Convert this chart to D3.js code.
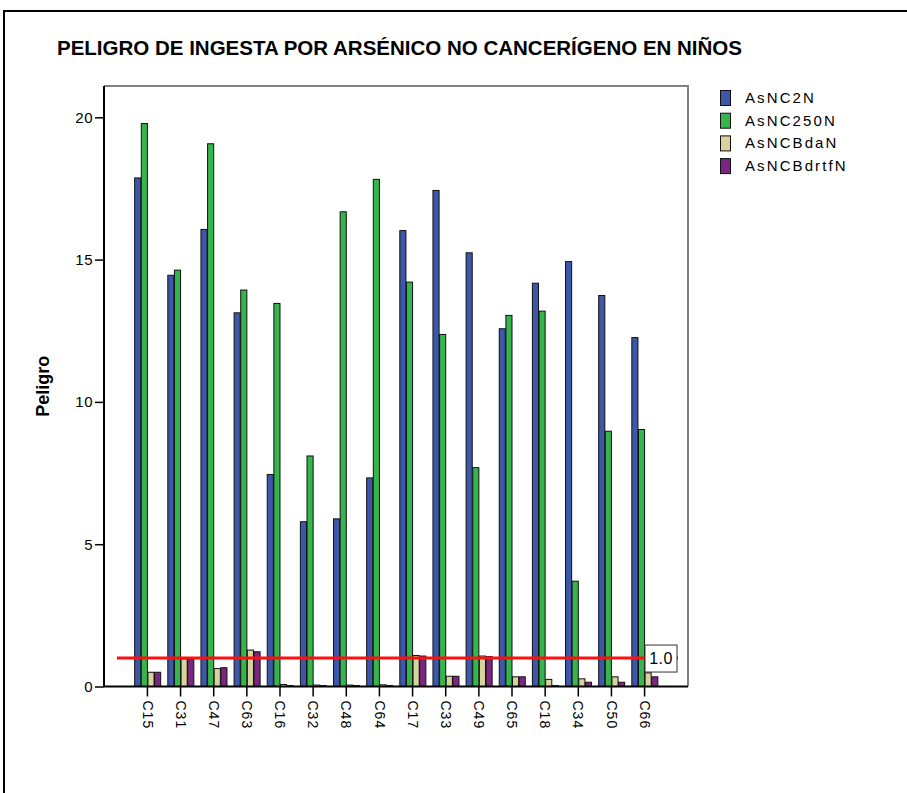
<!DOCTYPE html>
<html>
<head>
<meta charset="utf-8">
<script src="https://cdn.jsdelivr.net/npm/d3@7"></script>
<style>
  html, body { margin: 0; padding: 0; background: #fff; }
  svg { display: block; font-family: "Liberation Sans", Arial, sans-serif; }
</style>
</head>
<body>
<svg id="chart" width="907" height="793"></svg>
<script>
// Hazard index per sampling site
const categories = ["C15","C31","C47","C63","C16","C32","C48","C64","C17","C33","C49","C65","C18","C34","C50","C66"];
const seriesNames = ["AsNC2N","AsNC250N","AsNCBdaN","AsNCBdrtfN"];
const asnc2n     = [17.87,14.45,16.06,13.13,7.45,5.79,5.89,7.33,16.02,17.43,15.24,12.57,14.17,14.93,13.74,12.26];
const asnc250n   = [19.78,14.63,19.07,13.93,13.46,8.10,16.68,17.82,14.21,12.37,7.69,13.04,13.19,3.70,8.97,9.03];
const asncbdan   = [0.50,0.97,0.63,1.28,0.07,0.05,0.05,0.06,1.09,0.36,1.07,0.34,0.25,0.27,0.34,0.48];
const asncbdrtfn = [0.50,0.97,0.66,1.22,0.03,0.03,0.03,0.03,1.07,0.36,1.05,0.34,0.03,0.15,0.15,0.34];
const yTicks = [0, 5, 10, 15, 20];
const threshold = 1.0;

const seriesValues = [asnc2n, asnc250n, asncbdan, asncbdrtfn];
const colors = ["#3d57a9", "#35b54b", "#d8d29d", "#7b2782"];

const svg = d3.select("#chart");

// outer border
svg.append("rect")
  .attr("x", 4).attr("y", 11).attr("width", 920).attr("height", 800)
  .attr("fill", "none").attr("stroke", "#000").attr("stroke-width", 2);

// title
svg.append("text")
  .attr("x", 57).attr("y", 55)
  .attr("font-size", 20).attr("font-weight", "bold")
  .attr("textLength", 685).attr("lengthAdjust", "spacingAndGlyphs")
  .text("PELIGRO DE INGESTA POR ARSÉNICO NO CANCERÍGENO EN NIÑOS");

const plot = { left: 104, right: 688, top: 86, bottom: 686.5 };

const x0 = d3.scaleBand().domain(categories)
  .range([plot.left, plot.right]).paddingInner(0.2).paddingOuter(0.91);
const x1 = d3.scaleBand().domain(seriesNames).range([0, x0.bandwidth()]);
const y = d3.scaleLinear().domain([0, 21.1]).range([plot.bottom, plot.top]);

// plot frame (top and right)
svg.append("path")
  .attr("d", `M${plot.left},${plot.top}H${plot.right}V${plot.bottom}`)
  .attr("fill", "none").attr("stroke", "#808080").attr("stroke-width", 2);

// bars
const groups = svg.append("g").selectAll("g")
  .data(categories).join("g")
  .attr("transform", d => `translate(${x0(d)},0)`);

groups.selectAll("rect")
  .data((c, i) => seriesNames.map((s, k) => ({ s, k, v: seriesValues[k][i] })))
  .join("rect")
  .attr("x", d => x1(d.s) + 0.5)
  .attr("width", x1.bandwidth() - 0.5)
  .attr("y", d => y(d.v))
  .attr("height", d => y(0) - y(d.v))
  .attr("fill", d => colors[d.k])
  .attr("stroke", "#111").attr("stroke-width", 1);

// y axis
const yAxis = svg.append("g")
  .attr("transform", `translate(${plot.left},0)`)
  .call(d3.axisLeft(y).tickValues(yTicks).tickFormat(d3.format("d")).tickSize(9).tickPadding(2));
yAxis.select(".domain").attr("stroke", "#000").attr("stroke-width", 2)
  .attr("d", `M0,${plot.top}V${plot.bottom}`);
yAxis.selectAll(".tick line").attr("stroke", "#000").attr("stroke-width", 1.5);
yAxis.selectAll(".tick text").attr("font-size", 15).attr("fill", "#000")
  .attr("font-family", "'Liberation Sans', Arial, sans-serif").attr("letter-spacing", 0.5);

// x axis
const xAxis = svg.append("g")
  .attr("transform", `translate(0,${plot.bottom})`)
  .call(d3.axisBottom(x0).tickSize(10).tickPadding(4));
xAxis.select(".domain").attr("stroke", "#000").attr("stroke-width", 2)
  .attr("d", `M${plot.left},0H${plot.right}`);
xAxis.selectAll(".tick line").attr("stroke", "#000").attr("stroke-width", 1.5);
xAxis.selectAll(".tick text")
  .attr("font-size", 14).attr("fill", "#000")
  .attr("font-family", "'Liberation Sans', Arial, sans-serif")
  .attr("letter-spacing", 1)
  .attr("text-anchor", "start")
  .attr("dy", "0.35em")
  .attr("transform", "translate(0,14) rotate(90)")
  .attr("x", 0).attr("y", 0);

// y axis title
svg.append("text")
  .attr("transform", `translate(49,${(plot.top + plot.bottom) / 2}) rotate(-90)`)
  .attr("text-anchor", "middle")
  .attr("font-size", 18).attr("font-weight", "bold")
  .text("Peligro");

// reference line at hazard = 1
const yRef = y(threshold);
svg.append("line")
  .attr("x1", 117).attr("x2", 678)
  .attr("y1", yRef).attr("y2", yRef)
  .attr("stroke", "#ff1010").attr("stroke-width", 3);

const refLabel = svg.append("g").attr("transform", `translate(645,${yRef})`);
refLabel.append("rect")
  .attr("x", 0).attr("y", -13).attr("width", 32).attr("height", 27)
  .attr("fill", "#fff").attr("stroke", "#333").attr("stroke-width", 1);
refLabel.append("text")
  .attr("x", 16).attr("y", 6).attr("text-anchor", "middle")
  .attr("font-size", 16).attr("letter-spacing", 0.5)
  .text(d3.format(".1f")(threshold));

// legend
const legend = svg.append("g").attr("transform", "translate(720,90)");
const items = legend.selectAll("g").data(seriesNames).join("g")
  .attr("transform", (d, i) => `translate(0,${i * 22.7})`);
items.append("rect")
  .attr("x", 0.5).attr("y", 0.5).attr("width", 10).attr("height", 15)
  .attr("fill", (d, i) => colors[i]).attr("stroke", "#111").attr("stroke-width", 1);
items.append("text")
  .attr("x", 25).attr("y", 13)
  .attr("font-size", 15).attr("letter-spacing", 2.1)
  .text(d => d);
</script>
</body>
</html>
